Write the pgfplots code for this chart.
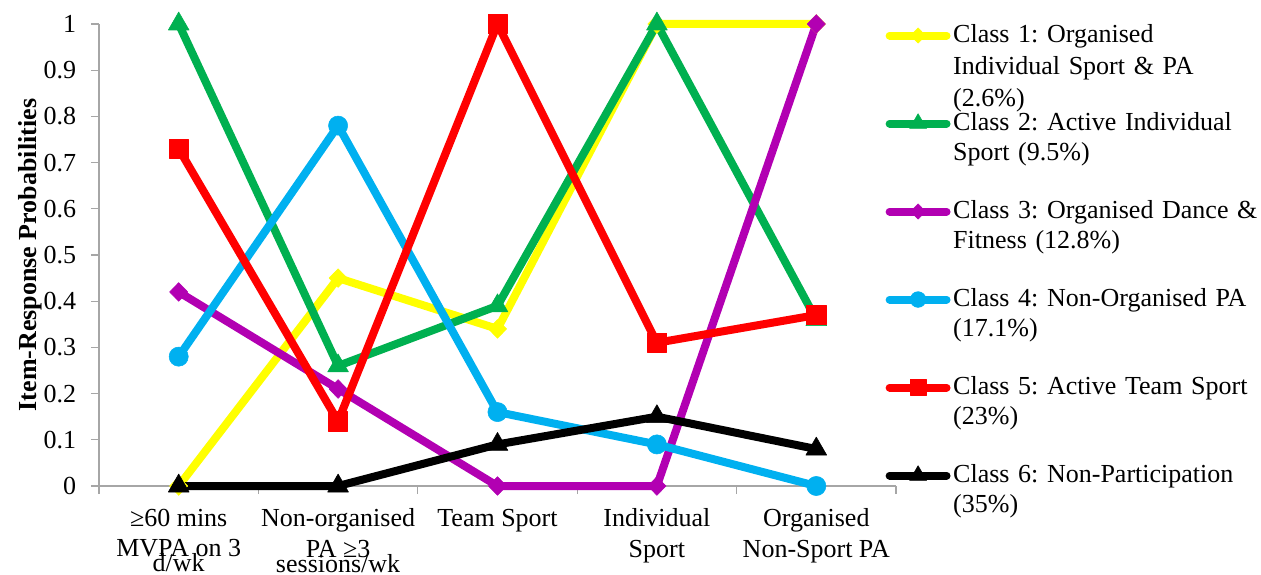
\documentclass[border=0pt]{standalone}
\usepackage{pgfplots}
\pgfplotsset{compat=1.18}
\usepackage{fontspec}
\setmainfont{Liberation Serif}

\definecolor{cone}{RGB}{255,255,0}
\definecolor{ctwo}{RGB}{0,176,80}
\definecolor{cthree}{RGB}{178,0,178}
\definecolor{cfour}{RGB}{0,176,240}
\definecolor{cfive}{RGB}{255,0,0}
\definecolor{csix}{RGB}{0,0,0}
\newcommand{\chartfont}{\frenchspacing\fontsize{19.5}{23}\selectfont}

\begin{document}
\begin{tikzpicture}
\begin{axis}[
    at={(74.25pt,66.75pt)}, anchor=south west,
    scale only axis,
    width=597.75pt, height=346.5pt,
    xmin=-0.5, xmax=4.5, ymin=0, ymax=1,
    clip=false,
    axis lines=left,
    axis line style={-, draw=gray!70, line width=0.8pt},
    tick align=outside,
    tick style={draw=gray!70, line width=0.8pt},
    major tick length=6pt, minor tick length=6pt,
    ytick={0,0.1,0.2,0.3,0.4,0.5,0.6,0.7,0.8,0.9,1},
    yticklabel style={font=\chartfont, inner sep=0pt, xshift=-11pt},
    /pgf/number format/assume math mode=true,
    xtick={0,1,2,3,4},
    major x tick style={draw=none},
    minor xtick={-0.5,0.5,1.5,2.5,3.5,4.5},
    xticklabels={
        {≥60 mins\\MVPA on 3\\[-12pt]d/wk},
        {Non-organised\\PA ≥3\\[-12pt]sessions/wk},
        {Team Sport},
        {Individual\\Sport},
        {Organised\\Non-Sport PA}},
    xticklabel style={font=\chartfont, align=center, inner sep=0pt, yshift=-11pt},
    ylabel={Item-Response Probabilities},
    every axis y label/.style={at={(axis description cs:-0.0866,0.5)}, rotate=90,
        anchor=center, font=\chartfont\bfseries},
    every axis plot/.append style={line width=6pt, line join=round},
    legend image code/.code={%
        \draw[mark repeat=2, mark phase=2, line cap=round, #1,
              every mark/.append style={scale=0.82}]
            plot coordinates {(0cm,5pt) (0.75cm,5pt) (1.5cm,5pt)};},
    legend style={at={(axis description cs:0.987,1.001)}, anchor=north west,
        draw=none, fill=none, inner sep=0pt, outer sep=0pt,
        row sep=0pt, column sep=2pt,
        nodes={font=\chartfont, text width=232pt, align=left, inner sep=0pt,
            text height=14pt, text depth=52pt},
        cells={anchor=base west}},
]
\addplot[cone, mark=diamond*, mark size=7pt, mark options={solid, xscale=1.3, line width=0.4pt}]
    coordinates {(0,0) (1,0.45) (2,0.34) (3,1) (4,1)};
\addlegendentry{Class 1: Organised\\[1pt]Individual Sport \& PA\\[1pt](2.6\%)}
\addplot[ctwo, mark=triangle*, mark size=9pt, mark options={solid, line width=0.4pt}]
    coordinates {(0,1) (1,0.26) (2,0.39) (3,1) (4,0.36)};
\addlegendentry{Class 2: Active Individual\\Sport (9.5\%)}
\addplot[cthree, mark=diamond*, mark size=7pt, mark options={solid, xscale=1.3, line width=0.4pt}]
    coordinates {(0,0.42) (1,0.21) (2,0) (3,0) (4,1)};
\addlegendentry{Class 3: Organised Dance \&\\Fitness (12.8\%)}
\addplot[cfour, mark=*, mark size=7.2pt, mark options={solid, line width=0.4pt}]
    coordinates {(0,0.28) (1,0.78) (2,0.16) (3,0.09) (4,0)};
\addlegendentry{Class 4: Non-Organised PA\\(17.1\%)}
\addplot[cfive, mark=square*, mark size=7.2pt, mark options={solid, line width=0.4pt}]
    coordinates {(0,0.73) (1,0.14) (2,1) (3,0.31) (4,0.37)};
\addlegendentry{Class 5: Active Team Sport\\(23\%)}
\addplot[csix, mark=triangle*, mark size=9pt, mark options={solid, line width=0.4pt}]
    coordinates {(0,0) (1,0) (2,0.09) (3,0.15) (4,0.08)};
\addlegendentry{Class 6: Non-Participation\\(35\%)}
\end{axis}
\pgfresetboundingbox
\path[use as bounding box] (0,0) rectangle (945.75pt,431.25pt);
\end{tikzpicture}
\end{document}
